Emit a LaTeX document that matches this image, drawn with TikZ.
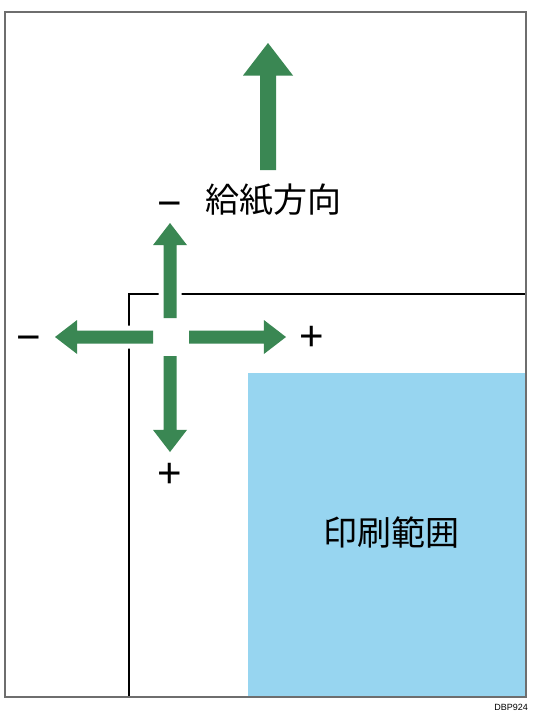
\documentclass[tikz,border=0pt]{standalone}
\usepackage{fontspec}
\usepackage{tikz}
\newfontfamily\jpfont{Noto Sans CJK JP}
\newfontfamily\codefont{Liberation Sans}
\definecolor{arrowgreen}{RGB}{58,135,83}
\definecolor{areablue}{RGB}{151,213,240}
\definecolor{framegray}{RGB}{110,110,110}
% #1 x, #2 y, #3 angle, #4 length, #5 shaft half width, #6 head half width, head length = 1.3*#6
\newcommand{\grarrow}[6]{%
  \filldraw[white,line width=10pt,shift={(#1,#2)},rotate=#3]
    (0,-#5) -- ({#4-1.3*#6},-#5) -- ({#4-1.3*#6},-#6) -- (#4,0) -- ({#4-1.3*#6},#6) -- ({#4-1.3*#6},#5) -- (0,#5) -- cycle;
  \fill[arrowgreen,shift={(#1,#2)},rotate=#3]
    (0,-#5) -- ({#4-1.3*#6},-#5) -- ({#4-1.3*#6},-#6) -- (#4,0) -- ({#4-1.3*#6},#6) -- ({#4-1.3*#6},#5) -- (0,#5) -- cycle;}
\tikzset{sign/.style={anchor=base,inner sep=0pt,font=\codefont\fontsize{42}{42}\selectfont}}

\begin{document}
\begin{tikzpicture}[x=1pt,y=-1pt]
        \useasboundingbox (0,0) rectangle (535,715);
        \coordinate (O) at (5,12);
        \coordinate (C) at (170,337);

        \fill[areablue] (248,373) rectangle (526,697);
        \draw[line width=1.4pt] (129,697) -- (129,294) -- (526,294);
        \draw[framegray,line width=2pt] (O) rectangle (526,697);

        \grarrow{268}{170}{90}{127}{8}{25}
        \grarrow{170}{318}{90}{95}{6.5}{17}
        \grarrow{153}{337}{180}{98}{6.5}{17}
        \grarrow{189}{337}{0}{97}{6.5}{17}
        \grarrow{170}{356}{270}{96}{6.5}{17}

\node (feed) at (273,200) {\jpfont\fontsize{34}{34}\selectfont 給紙方向};
\node (area) at (391,533) {\jpfont\fontsize{34}{34}\selectfont 印刷範囲};
\node[sign] (minustop) at (170,217) {−};
\node[sign] (minusleft) at (29,351) {−};
\node[sign] (plusright) at (311.5,350) {+};
\node[sign] (plusbottom) at (170,487) {+};
\node[anchor=east,inner sep=0pt] (code) at (528,707) {\codefont\fontsize{9}{9}\selectfont DBP924};

    \end{tikzpicture}
\end{document}
